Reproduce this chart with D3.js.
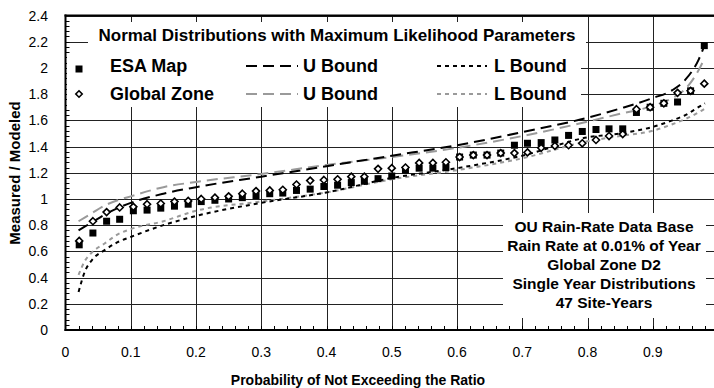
<!DOCTYPE html>
<html><head><meta charset="utf-8">
<script src="https://cdn.jsdelivr.net/npm/d3@7"></script>
<style>body{margin:0;background:#fff}svg{display:block}text{font-family:"Liberation Sans",Arial,Helvetica,sans-serif}</style>
</head><body><svg id="c" width="714" height="388"></svg>
<script>
// ---- data ----
const probs = [0.021,0.042,0.063,0.083,0.104,0.125,0.146,0.167,0.188,0.208,0.229,0.25,0.271,0.292,0.313,0.333,0.354,0.375,0.396,0.417,0.438,0.458,0.479,0.5,0.521,0.542,0.563,0.583,0.604,0.625,0.646,0.667,0.688,0.708,0.729,0.75,0.771,0.792,0.813,0.833,0.854,0.875,0.896,0.917,0.938,0.958,0.979];
const esaMap = [0.65,0.74,0.83,0.845,0.91,0.915,0.93,0.945,0.96,0.98,0.99,1.0,1.01,1.025,1.04,1.045,1.065,1.075,1.095,1.105,1.125,1.135,1.155,1.175,1.22,1.235,1.235,1.24,1.32,1.335,1.335,1.35,1.41,1.425,1.43,1.45,1.485,1.515,1.53,1.535,1.535,1.66,1.70,1.73,1.74,1.825,2.17];
const globalZone = [0.68,0.83,0.90,0.935,0.94,0.96,0.965,0.98,0.985,1.0,1.01,1.02,1.04,1.06,1.065,1.07,1.11,1.14,1.145,1.15,1.17,1.17,1.23,1.235,1.24,1.275,1.275,1.28,1.32,1.335,1.335,1.35,1.35,1.355,1.39,1.405,1.41,1.425,1.45,1.48,1.495,1.685,1.70,1.73,1.81,1.825,1.88];
const boundProbs = [0.02,0.03,0.04,0.06,0.08,0.1,0.15,0.2,0.3,0.4,0.5,0.6,0.7,0.8,0.85,0.9,0.93,0.95,0.97,0.98];
const esaUpper    = [0.76,0.79,0.82,0.88,0.93,0.97,1.04,1.09,1.17,1.25,1.33,1.41,1.51,1.62,1.69,1.77,1.83,1.91,2.06,2.18];
const globalUpper = [0.83,0.86,0.89,0.95,0.99,1.02,1.09,1.13,1.19,1.26,1.32,1.39,1.48,1.59,1.65,1.71,1.77,1.84,1.98,2.08];
const esaLower    = [0.29,0.45,0.53,0.61,0.67,0.71,0.80,0.87,0.97,1.05,1.16,1.235,1.33,1.47,1.50,1.55,1.60,1.64,1.70,1.73];
const globalLower = [0.42,0.53,0.59,0.66,0.73,0.77,0.83,0.91,0.98,1.05,1.15,1.22,1.31,1.44,1.48,1.52,1.57,1.61,1.66,1.69];
const xTicks = [0,0.1,0.2,0.3,0.4,0.5,0.6,0.7,0.8,0.9];
const xTickLabels = ["0","0.1","0.2","0.3","0.4","0.5","0.6","0.7","0.8","0.9"];
const yTicks = [0,0.2,0.4,0.6,0.8,1,1.2,1.4,1.6,1.8,2,2.2,2.4];
const yTickLabels = ["0","0.2","0.4","0.6","0.8","1","1.2","1.4","1.6","1.8","2","2.2","2.4"];
const legendTitle = "Normal Distributions with Maximum Likelihood Parameters";
const legendSeries = ["ESA Map","Global Zone"];
const boundLabels = ["U Bound","L Bound"];
const infoLines = ["OU Rain-Rate Data Base","Rain Rate at 0.01% of Year","Global Zone D2","Single Year Distributions","47 Site-Years"];
const xTitle = "Probability of Not Exceeding the Ratio";
const yTitle = "Measured / Modeled";

// ---- chart ----
const svg = d3.select("#c");
const L = 65.5, R = 718, T = 15.5, B = 330;
const x = d3.scaleLinear().domain([0,1]).range([L,R]);
const y = d3.scaleLinear().domain([0,2.4]).range([B,T]);
const gray = "#9a9a9a";

svg.append("defs").append("clipPath").attr("id","pc")
  .append("rect").attr("x",L).attr("y",T).attr("width",714-L).attr("height",B-T);

const grid = svg.append("g").attr("stroke","#222").attr("stroke-width",1);
grid.selectAll("line.h").data(yTicks.slice(1)).join("line")
  .attr("x1",L).attr("x2",714).attr("y1",d=>Math.round(y(d))+0.5).attr("y2",d=>Math.round(y(d))+0.5);
grid.selectAll("line.v").data(xTicks.slice(1)).join("line")
  .attr("y1",T).attr("y2",B).attr("x1",d=>Math.round(x(d))+0.5).attr("x2",d=>Math.round(x(d))+0.5);

// minor ticks
const xMinor = d3.range(1,50).map(i=>i*0.02);
svg.append("g").attr("stroke","#000").attr("stroke-width",1)
  .selectAll("line").data(xMinor).join("line")
  .attr("x1",d=>Math.round(x(d))+0.5).attr("x2",d=>Math.round(x(d))+0.5)
  .attr("y1",B).attr("y2",B-4);
const yMinor = d3.range(1,60).map(i=>i*0.04);
svg.append("g").attr("stroke","#000").attr("stroke-width",1)
  .selectAll("line").data(yMinor).join("line")
  .attr("y1",d=>Math.round(y(d))+0.5).attr("y2",d=>Math.round(y(d))+0.5)
  .attr("x1",L).attr("x2",L+4);

const plot = svg.append("g").attr("clip-path","url(#pc)");
const line = d3.line().x(d=>x(d[0])).y(d=>y(d[1])).curve(d3.curveMonotoneX);
const curves = [
  {v:globalUpper, c:gray, dash:"11,6"},
  {v:globalLower, c:gray, dash:"4,4"},
  {v:esaUpper, c:"#000", dash:"11,6"},
  {v:esaLower, c:"#000", dash:"4,4"}
];
curves.forEach(cv=>{
  plot.append("path").datum(boundProbs.map((p,i)=>[p,cv.v[i]]))
    .attr("d",line).attr("fill","none").attr("stroke",cv.c)
    .attr("stroke-width",2).attr("stroke-dasharray",cv.dash);
});
// squares
plot.selectAll("rect.esa").data(probs).join("rect")
  .attr("x",(d)=>x(d)-3.5).attr("y",(d,i)=>y(esaMap[i])-3.5)
  .attr("width",7).attr("height",7).attr("fill","#000");
// diamonds
const dia = (cx,cy,r)=>`M${cx},${cy-r}L${cx+r},${cy}L${cx},${cy+r}L${cx-r},${cy}Z`;
plot.selectAll("path.gz").data(probs).join("path")
  .attr("d",(d,i)=>dia(x(d),y(globalZone[i]),3.5))
  .attr("fill","#fff").attr("stroke","#000").attr("stroke-width",1.6);

// legend
svg.append("rect").attr("x",88).attr("y",22).attr("width",498).attr("height",33).attr("fill","#fff");
svg.append("rect").attr("x",67).attr("y",54).attr("width",514).attr("height",53).attr("fill","#fff");
svg.append("text").attr("x",337).attr("y",41).attr("text-anchor","middle")
  .attr("font-weight","bold").attr("font-size",17).text(legendTitle);
const rowsY = [72,100];
const rowCols = ["#000",gray];
rowsY.forEach((ry,k)=>{
  if(k===0) svg.append("rect").attr("x",75.5).attr("y",ry-6.5).attr("width",7).attr("height",7).attr("fill","#000");
  else svg.append("path").attr("d",dia(79,ry-6,3.2)).attr("fill","#fff").attr("stroke","#000").attr("stroke-width",1.6);
  svg.append("text").attr("x",110).attr("y",ry).attr("font-weight","bold").attr("font-size",18).text(legendSeries[k]);
  svg.append("line").attr("x1",246).attr("x2",298).attr("y1",ry-6).attr("y2",ry-6)
    .attr("stroke",rowCols[k]).attr("stroke-width",2).attr("stroke-dasharray","11,6");
  svg.append("text").attr("x",303).attr("y",ry).attr("font-weight","bold").attr("font-size",18).text(boundLabels[0]);
  svg.append("line").attr("x1",437).attr("x2",487).attr("y1",ry-6).attr("y2",ry-6)
    .attr("stroke",rowCols[k]).attr("stroke-width",2).attr("stroke-dasharray","4,4");
  svg.append("text").attr("x",494).attr("y",ry).attr("font-weight","bold").attr("font-size",18).text(boundLabels[1]);
});

// info box
svg.append("rect").attr("x",503).attr("y",213).attr("width",203).attr("height",105).attr("fill","#fff");
infoLines.forEach((t,i)=>{
  svg.append("text").attr("x",604).attr("y",232+i*19).attr("text-anchor","middle")
    .attr("font-weight","bold").attr("font-size",15.5).text(t);
});

// frame
svg.append("line").attr("x1",L).attr("x2",L).attr("y1",T-1).attr("y2",B+1).attr("stroke","#000").attr("stroke-width",2);
svg.append("line").attr("x1",L-1).attr("x2",714).attr("y1",B).attr("y2",B).attr("stroke","#000").attr("stroke-width",2);
svg.append("line").attr("x1",L-1).attr("x2",714).attr("y1",T).attr("y2",T).attr("stroke","#000").attr("stroke-width",2);

// tick labels
svg.append("g").selectAll("text").data(xTicks).join("text")
  .attr("x",d=>x(d)).attr("y",357).attr("text-anchor","middle").attr("font-size",14)
  .text((d,i)=>xTickLabels[i]);
svg.append("g").selectAll("text").data(yTicks).join("text")
  .attr("x",48).attr("y",d=>y(d)+5).attr("text-anchor","end").attr("font-size",14)
  .text((d,i)=>yTickLabels[i]);
svg.append("text").attr("x",358).attr("y",385).attr("text-anchor","middle")
  .attr("font-weight","bold").attr("font-size",14).text(xTitle);
svg.append("text").attr("transform","translate(20,173) rotate(-90)").attr("text-anchor","middle")
  .attr("font-weight","bold").attr("font-size",15).text(yTitle);
</script></body></html>
